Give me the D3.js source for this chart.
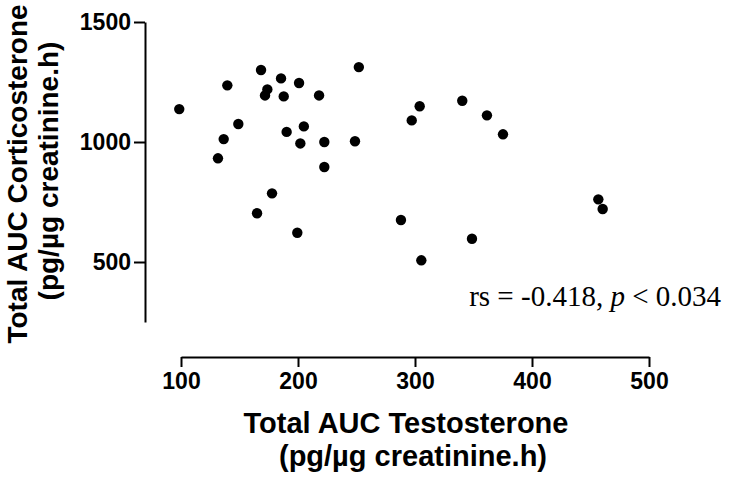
<!DOCTYPE html>
<html>
<head>
<meta charset="utf-8">
<script src="https://cdn.jsdelivr.net/npm/d3@7"></script>
<style>
  html, body { margin: 0; padding: 0; background: #fff; }
  svg { display: block; }
</style>
</head>
<body>
<svg id="chart" width="730" height="480"></svg>
<script>
// Data
const testosterone = [98.5, 139.6, 168.4, 185.5, 200.9, 173.8, 171.8, 187.8, 218, 252,
  149, 136.5, 131.6, 190.3, 205, 202, 222.5, 248.7, 222.5, 177.8, 165, 199.4,
  304, 297.2, 340.4, 361.5, 375.2, 288, 348.7, 305.4, 456.7, 460.4];
const corticosterone = [1137, 1236, 1300, 1265, 1246, 1219, 1194, 1190, 1194, 1312,
  1075, 1012, 932, 1042, 1065, 994, 1000, 1003, 896, 786, 703, 622,
  1149, 1090, 1172, 1111, 1032, 675, 597, 507, 761, 721];
const xTicks = [100, 200, 300, 400, 500];
const yTicks = [500, 1000, 1500];
const xTitle = ["Total AUC Testosterone", "(pg/\u00b5g creatinine.h)"];
const yTitle = ["Total AUC Corticosterone", "(pg/\u00b5g creatinine.h)"];
const statsText = { pre: "rs = -0.418, ", italic: "p", post: " < 0.034" };

const svg = d3.select("#chart");
const x = d3.scaleLinear().domain([100, 500]).range([181, 649]);
const y = d3.scaleLinear().domain([250, 1500]).range([322, 22]);

const axisFont = "'Liberation Sans', Arial, sans-serif";

// Y axis
const yAxis = svg.append("g").attr("transform", "translate(145,0)")
  .call(d3.axisLeft(y).tickValues(yTicks).tickSize(11).tickPadding(3).tickSizeOuter(0).tickFormat(d3.format("d")));
// X axis
const xAxis = svg.append("g").attr("transform", "translate(0,357)")
  .call(d3.axisBottom(x).tickValues(xTicks).tickSize(10).tickPadding(6).tickSizeOuter(0).tickFormat(d3.format("d")));

[yAxis, xAxis].forEach(g => {
  g.select(".domain").attr("stroke", "#000").attr("stroke-width", 2);
  g.selectAll(".tick line").attr("stroke", "#000").attr("stroke-width", 2);
  g.selectAll(".tick text").attr("fill", "#000")
    .style("font-family", axisFont).style("font-weight", "bold").style("font-size", "23px");
});

// Points
svg.append("g").selectAll("circle")
  .data(testosterone.map((t, i) => [t, corticosterone[i]]))
  .join("circle")
  .attr("cx", d => x(d[0]))
  .attr("cy", d => y(d[1]))
  .attr("r", 5.2)
  .attr("fill", "#000");

// X title
svg.append("g").selectAll("text").data(xTitle).join("text")
  .attr("x", (d, i) => i === 0 ? 406 : 413)
  .attr("y", (d, i) => 433 + i * 33)
  .attr("text-anchor", "middle")
  .style("font-family", axisFont).style("font-weight", "bold").style("font-size", "29px")
  .text(d => d);

// Y title
svg.append("g").selectAll("text").data(yTitle).join("text")
  .attr("transform", (d, i) => `translate(${27 + i * 31},${i === 0 ? 174 : 171}) rotate(-90)`)
  .attr("text-anchor", "middle")
  .style("font-family", axisFont).style("font-weight", "bold").style("font-size", "28px")
  .text(d => d);

// Stats annotation
const st = svg.append("text")
  .attr("x", 721).attr("y", 306)
  .attr("text-anchor", "end")
  .style("font-family", "'Liberation Serif', 'Times New Roman', serif")
  .style("font-size", "29px");
st.append("tspan").text(statsText.pre);
st.append("tspan").style("font-style", "italic").text(statsText.italic);
st.append("tspan").text(statsText.post);
</script>
</body>
</html>
